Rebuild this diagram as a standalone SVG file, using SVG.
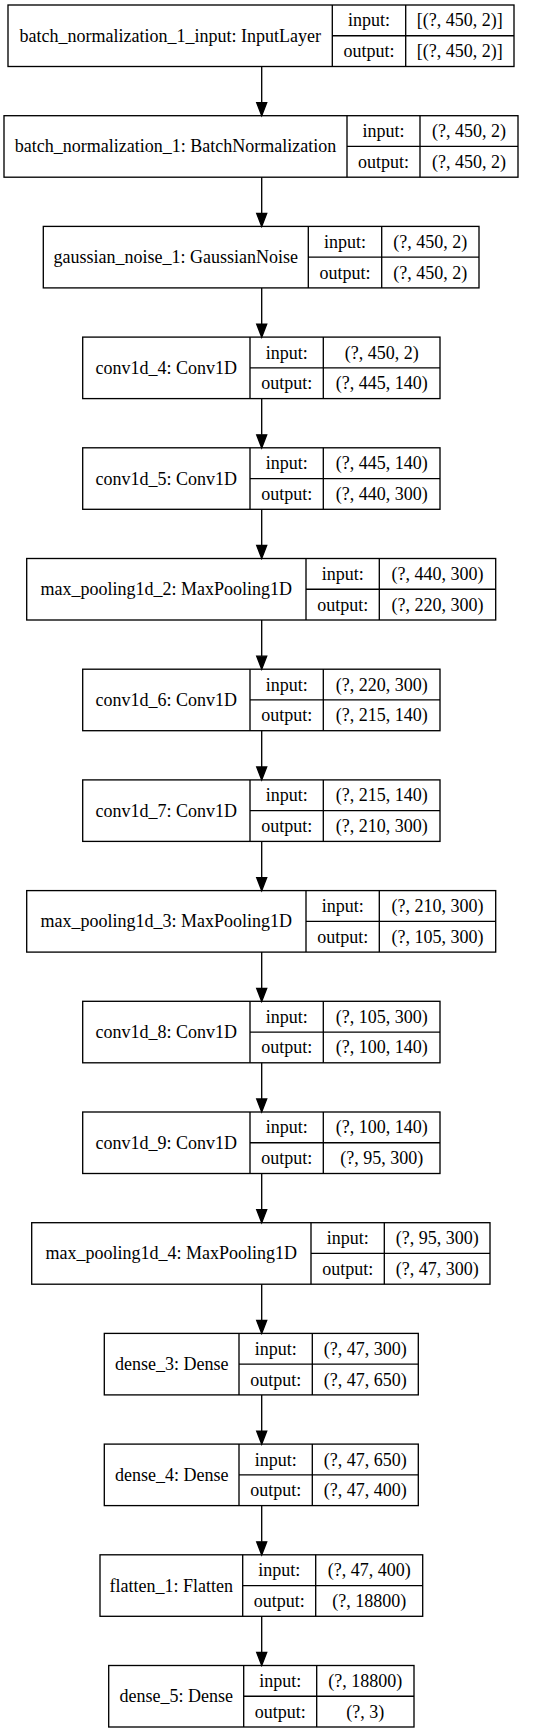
<svg xmlns="http://www.w3.org/2000/svg" width="552" height="1733" viewBox="0 0 552 1733">
<style>
.box{fill:#fff;stroke:#000;stroke-width:1.33}
.ln{stroke:#000;stroke-width:1.33;fill:none}
text{font-family:"Liberation Serif","Times New Roman",serif;font-size:18px;fill:#000;text-anchor:middle}
.edge{stroke:#000;stroke-width:1.33;fill:none}
.ah{fill:#000;stroke:#000;stroke-width:1.33}
</style>
<rect width="552" height="1733" fill="#fff"/>
<g id="n0">
<rect class="box" x="8" y="5" width="506" height="61.5"/>
<path class="ln" d="M332.3 5V66.5M405.7 5V66.5M332.3 35.75H514"/>
<text x="170.2" y="41.75">batch_normalization_1_input: InputLayer</text>
<text x="369" y="26.4">input:</text><text x="369" y="57.1">output:</text>
<text x="459.8" y="26.4">[(?, 450, 2)]</text><text x="459.8" y="57.1">[(?, 450, 2)]</text>
</g>
<g id="n1">
<rect class="box" x="4" y="115.7" width="514" height="61.5"/>
<path class="ln" d="M347 115.7V177.2M420 115.7V177.2M347 146.45H518"/>
<text x="175.5" y="152.45">batch_normalization_1: BatchNormalization</text>
<text x="383.5" y="137.1">input:</text><text x="383.5" y="167.8">output:</text>
<text x="469" y="137.1">(?, 450, 2)</text><text x="469" y="167.8">(?, 450, 2)</text>
</g>
<g id="n2">
<rect class="box" x="43.3" y="226.4" width="435.7" height="61.5"/>
<path class="ln" d="M308.3 226.4V287.9M381.7 226.4V287.9M308.3 257.15H479"/>
<text x="175.8" y="263.15">gaussian_noise_1: GaussianNoise</text>
<text x="345" y="247.8">input:</text><text x="345" y="278.5">output:</text>
<text x="430.35" y="247.8">(?, 450, 2)</text><text x="430.35" y="278.5">(?, 450, 2)</text>
</g>
<g id="n3">
<rect class="box" x="82.7" y="337.1" width="357.3" height="61.5"/>
<path class="ln" d="M250 337.1V398.6M323.3 337.1V398.6M250 367.85H440"/>
<text x="166.35" y="373.85">conv1d_4: Conv1D</text>
<text x="286.65" y="358.5">input:</text><text x="286.65" y="389.2">output:</text>
<text x="381.65" y="358.5">(?, 450, 2)</text><text x="381.65" y="389.2">(?, 445, 140)</text>
</g>
<g id="n4">
<rect class="box" x="82.7" y="447.8" width="357.3" height="61.5"/>
<path class="ln" d="M250 447.8V509.3M323.3 447.8V509.3M250 478.55H440"/>
<text x="166.35" y="484.55">conv1d_5: Conv1D</text>
<text x="286.65" y="469.2">input:</text><text x="286.65" y="499.9">output:</text>
<text x="381.65" y="469.2">(?, 445, 140)</text><text x="381.65" y="499.9">(?, 440, 300)</text>
</g>
<g id="n5">
<rect class="box" x="26.7" y="558.5" width="469" height="61.5"/>
<path class="ln" d="M306 558.5V620M379.3 558.5V620M306 589.25H495.7"/>
<text x="166.35" y="595.25">max_pooling1d_2: MaxPooling1D</text>
<text x="342.65" y="579.9">input:</text><text x="342.65" y="610.6">output:</text>
<text x="437.5" y="579.9">(?, 440, 300)</text><text x="437.5" y="610.6">(?, 220, 300)</text>
</g>
<g id="n6">
<rect class="box" x="82.7" y="669.2" width="357.3" height="61.5"/>
<path class="ln" d="M250 669.2V730.7M323.3 669.2V730.7M250 699.95H440"/>
<text x="166.35" y="705.95">conv1d_6: Conv1D</text>
<text x="286.65" y="690.6">input:</text><text x="286.65" y="721.3">output:</text>
<text x="381.65" y="690.6">(?, 220, 300)</text><text x="381.65" y="721.3">(?, 215, 140)</text>
</g>
<g id="n7">
<rect class="box" x="82.7" y="779.9" width="357.3" height="61.5"/>
<path class="ln" d="M250 779.9V841.4M323.3 779.9V841.4M250 810.65H440"/>
<text x="166.35" y="816.65">conv1d_7: Conv1D</text>
<text x="286.65" y="801.3">input:</text><text x="286.65" y="832">output:</text>
<text x="381.65" y="801.3">(?, 215, 140)</text><text x="381.65" y="832">(?, 210, 300)</text>
</g>
<g id="n8">
<rect class="box" x="26.7" y="890.6" width="469" height="61.5"/>
<path class="ln" d="M306 890.6V952.1M379.3 890.6V952.1M306 921.35H495.7"/>
<text x="166.35" y="927.35">max_pooling1d_3: MaxPooling1D</text>
<text x="342.65" y="912">input:</text><text x="342.65" y="942.7">output:</text>
<text x="437.5" y="912">(?, 210, 300)</text><text x="437.5" y="942.7">(?, 105, 300)</text>
</g>
<g id="n9">
<rect class="box" x="82.7" y="1001.3" width="357.3" height="61.5"/>
<path class="ln" d="M250 1001.3V1062.8M323.3 1001.3V1062.8M250 1032.05H440"/>
<text x="166.35" y="1038.05">conv1d_8: Conv1D</text>
<text x="286.65" y="1022.7">input:</text><text x="286.65" y="1053.4">output:</text>
<text x="381.65" y="1022.7">(?, 105, 300)</text><text x="381.65" y="1053.4">(?, 100, 140)</text>
</g>
<g id="n10">
<rect class="box" x="82.7" y="1112" width="357.3" height="61.5"/>
<path class="ln" d="M250 1112V1173.5M323.3 1112V1173.5M250 1142.75H440"/>
<text x="166.35" y="1148.75">conv1d_9: Conv1D</text>
<text x="286.65" y="1133.4">input:</text><text x="286.65" y="1164.1">output:</text>
<text x="381.65" y="1133.4">(?, 100, 140)</text><text x="381.65" y="1164.1">(?, 95, 300)</text>
</g>
<g id="n11">
<rect class="box" x="31.7" y="1222.7" width="458.3" height="61.5"/>
<path class="ln" d="M311 1222.7V1284.2M384.3 1222.7V1284.2M311 1253.45H490"/>
<text x="171.35" y="1259.45">max_pooling1d_4: MaxPooling1D</text>
<text x="347.65" y="1244.1">input:</text><text x="347.65" y="1274.8">output:</text>
<text x="437.15" y="1244.1">(?, 95, 300)</text><text x="437.15" y="1274.8">(?, 47, 300)</text>
</g>
<g id="n12">
<rect class="box" x="104.3" y="1333.4" width="314" height="61.5"/>
<path class="ln" d="M239 1333.4V1394.9M312.3 1333.4V1394.9M239 1364.15H418.3"/>
<text x="171.65" y="1370.15">dense_3: Dense</text>
<text x="275.65" y="1354.8">input:</text><text x="275.65" y="1385.5">output:</text>
<text x="365.3" y="1354.8">(?, 47, 300)</text><text x="365.3" y="1385.5">(?, 47, 650)</text>
</g>
<g id="n13">
<rect class="box" x="104.3" y="1444.1" width="314" height="61.5"/>
<path class="ln" d="M239 1444.1V1505.6M312.3 1444.1V1505.6M239 1474.85H418.3"/>
<text x="171.65" y="1480.85">dense_4: Dense</text>
<text x="275.65" y="1465.5">input:</text><text x="275.65" y="1496.2">output:</text>
<text x="365.3" y="1465.5">(?, 47, 650)</text><text x="365.3" y="1496.2">(?, 47, 400)</text>
</g>
<g id="n14">
<rect class="box" x="100" y="1554.8" width="322.7" height="61.5"/>
<path class="ln" d="M242.7 1554.8V1616.3M315.7 1554.8V1616.3M242.7 1585.55H422.7"/>
<text x="171.35" y="1591.55">flatten_1: Flatten</text>
<text x="279.2" y="1576.2">input:</text><text x="279.2" y="1606.9">output:</text>
<text x="369.2" y="1576.2">(?, 47, 400)</text><text x="369.2" y="1606.9">(?, 18800)</text>
</g>
<g id="n15">
<rect class="box" x="108.7" y="1665.5" width="305.3" height="61.5"/>
<path class="ln" d="M243.7 1665.5V1727M316.7 1665.5V1727M243.7 1696.25H414"/>
<text x="176.2" y="1702.25">dense_5: Dense</text>
<text x="280.2" y="1686.9">input:</text><text x="280.2" y="1717.6">output:</text>
<text x="365.35" y="1686.9">(?, 18800)</text><text x="365.35" y="1717.6">(?, 3)</text>
</g>
<g id="edges">
<path class="edge" d="M261.7 66.5V103M261.7 177.2V213.4M261.7 287.9V324.1M261.7 398.6V434.8M261.7 509.3V545.5M261.7 620V656.2M261.7 730.7V766.9M261.7 841.4V877.6M261.7 952.1V988.3M261.7 1062.8V1099M261.7 1173.5V1209.7M261.7 1284.2V1320.4M261.7 1394.9V1431.1M261.7 1505.6V1541.8M261.7 1616.3V1652.5"/>
<path class="ah" d="M256.7 102.7L266.7 102.7L261.7 115.7ZM256.7 213.4L266.7 213.4L261.7 226.4ZM256.7 324.1L266.7 324.1L261.7 337.1ZM256.7 434.8L266.7 434.8L261.7 447.8ZM256.7 545.5L266.7 545.5L261.7 558.5ZM256.7 656.2L266.7 656.2L261.7 669.2ZM256.7 766.9L266.7 766.9L261.7 779.9ZM256.7 877.6L266.7 877.6L261.7 890.6ZM256.7 988.3L266.7 988.3L261.7 1001.3ZM256.7 1099L266.7 1099L261.7 1112ZM256.7 1209.7L266.7 1209.7L261.7 1222.7ZM256.7 1320.4L266.7 1320.4L261.7 1333.4ZM256.7 1431.1L266.7 1431.1L261.7 1444.1ZM256.7 1541.8L266.7 1541.8L261.7 1554.8ZM256.7 1652.5L266.7 1652.5L261.7 1665.5Z"/>
</g>
</svg>
